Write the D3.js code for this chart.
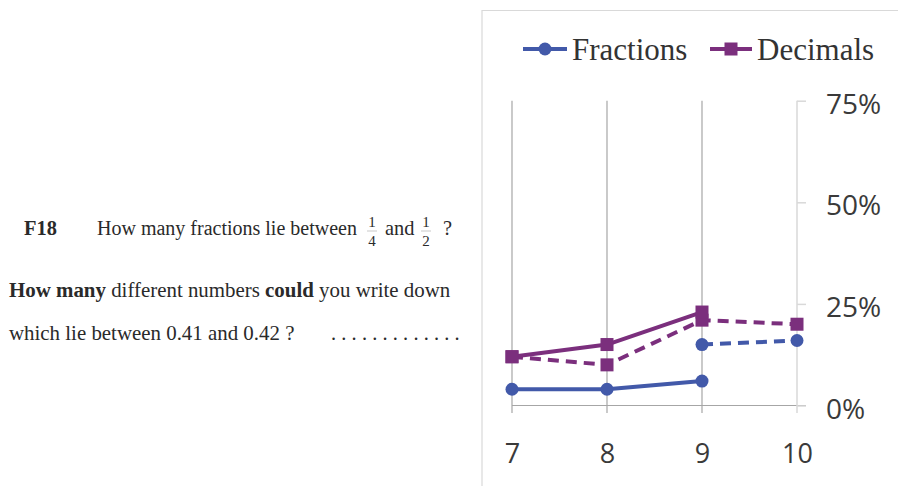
<!DOCTYPE html>
<html>
<head>
<meta charset="utf-8">
<script src="https://cdn.jsdelivr.net/npm/d3@7"></script>
<style>
html,body{margin:0;padding:0;background:#fff;}
svg{display:block;}
</style>
</head>
<body>
<svg id="c" width="898" height="486"></svg>
<script>
const grades = [7, 8, 9, 10];
const yTicks = [0, 25, 50, 75];
const fractionsSolid = [4, 4, 6, null];
const fractionsDashed = [null, null, 15, 16];
const decimalsSolid = [12, 15, 23, null];
const decimalsDashed = [12, 10, 21, 20];
const seriesNames = ["Fractions", "Decimals"];

const blue = "#4259a9", purple = "#7b2f7d";
const svg = d3.select("#c");

// ---- Left question text ----
const serif = "'Liberation Serif','Times New Roman',serif";
const q = svg.append("g").attr("font-family", serif).attr("fill", "#2a2a2a").attr("font-size", 20.9);
q.append("text").attr("x", 24).attr("y", 235).attr("font-weight", "bold").attr("font-size", 20.4).text("F18");
q.append("text").attr("x", 97).attr("y", 235).attr("font-size", 20).text("How many fractions lie between");
function frac(x, num, den) {
  q.append("text").attr("x", x).attr("y", 227).attr("font-size", 15).attr("text-anchor", "middle").text(num);
  q.append("line").attr("x1", x - 5).attr("x2", x + 5).attr("y1", 231).attr("y2", 231).attr("stroke", "#bbb").attr("stroke-width", 0.8);
  q.append("text").attr("x", x).attr("y", 246).attr("font-size", 15).attr("text-anchor", "middle").text(den);
}
frac(372, "1", "4");
q.append("text").attr("x", 385).attr("y", 235).attr("font-size", 20.4).text("and");
frac(426, "1", "2");
q.append("text").attr("x", 443).attr("y", 235).attr("font-size", 20.4).text("?");
const l2 = q.append("text").attr("x", 9).attr("y", 297);
l2.append("tspan").attr("font-weight", "bold").text("How many");
l2.append("tspan").text(" different numbers ");
l2.append("tspan").attr("font-weight", "bold").text("could");
l2.append("tspan").text(" you write down");
q.append("text").attr("x", 9).attr("y", 340).text("which lie between 0.41 and 0.42 ?");
q.append("text").attr("x", 331).attr("y", 340).attr("letter-spacing", 5.2).attr("font-size", 20.4).text(".............");

// ---- Chart frame ----
svg.append("path").attr("d", "M482,486 V10.5 H898").attr("fill", "none").attr("stroke", "#d9d9d9").attr("stroke-width", 1.2);

const x = d3.scaleLinear().domain([7, 10]).range([512, 797]);
const y = d3.scaleLinear().domain([0, 75]).range([405.5, 100.7]);

// gridlines
const g = svg.append("g");
g.selectAll("line.v").data(grades.slice(0, 3)).join("line")
  .attr("x1", d => x(d)).attr("x2", d => x(d))
  .attr("y1", y(75)).attr("y2", 413)
  .attr("stroke", "#a6a6a6").attr("stroke-width", 1.2);
g.append("line").attr("x1", x(7)).attr("x2", 806).attr("y1", y(0)).attr("y2", y(0))
  .attr("stroke", "#a6a6a6").attr("stroke-width", 1.2);
g.append("line").attr("x1", x(10)).attr("x2", x(10)).attr("y1", y(75)).attr("y2", 413)
  .attr("stroke", "#d9d9d9").attr("stroke-width", 1.5);

// right y axis
const yAxis = svg.append("g").attr("transform", `translate(${x(10)},0)`)
  .call(d3.axisRight(y).tickValues(yTicks).tickSize(9).tickSizeOuter(0).tickPadding(20).tickFormat(d => d + "%"));
yAxis.select(".domain").remove();
yAxis.selectAll(".tick line").attr("stroke", "#d9d9d9").attr("stroke-width", 1.5);
yAxis.selectAll(".tick text").attr("font-family", "'Open Sans',sans-serif").attr("font-size", 28)
  .attr("fill", "#3a3a3a").attr("dy", "0.45em");

// bottom x axis labels
const xAxis = svg.append("g").attr("transform", `translate(0,${y(0)})`)
  .call(d3.axisBottom(x).tickValues(grades).tickSize(0).tickPadding(38).tickFormat(d3.format("d")));
xAxis.select(".domain").remove();
xAxis.selectAll(".tick text").attr("font-family", "'Open Sans',sans-serif").attr("font-size", 27)
  .attr("fill", "#3a3a3a");

// series
function drawSeries(vals, color, dashed, marker) {
  const pts = grades.map((gv, i) => ({ g: gv, v: vals[i] })).filter(d => d.v != null);
  const line = d3.line().x(d => x(d.g)).y(d => y(d.v));
  svg.append("path").datum(pts).attr("d", line).attr("fill", "none")
    .attr("stroke", color).attr("stroke-width", 4).attr("stroke-linejoin", "round")
    .attr("stroke-dasharray", dashed ? "11,7" : null);
  if (marker === "circle") {
    svg.append("g").selectAll("circle").data(pts).join("circle")
      .attr("cx", d => x(d.g)).attr("cy", d => y(d.v)).attr("r", 6.5).attr("fill", color);
  } else {
    svg.append("g").selectAll("rect").data(pts).join("rect")
      .attr("x", d => x(d.g) - 6.5).attr("y", d => y(d.v) - 6.5).attr("width", 13).attr("height", 13).attr("fill", color);
  }
}
drawSeries(decimalsDashed, purple, true, "square");
drawSeries(decimalsSolid, purple, false, "square");
drawSeries(fractionsDashed, blue, true, "circle");
drawSeries(fractionsSolid, blue, false, "circle");

// legend
const leg = svg.append("g");
const legItems = [
  { name: seriesNames[0], color: blue, marker: "circle", x1: 523, x2: 567, tx: 572 },
  { name: seriesNames[1], color: purple, marker: "square", x1: 710, x2: 752, tx: 757 }
];
legItems.forEach(it => {
  leg.append("line").attr("x1", it.x1).attr("x2", it.x2).attr("y1", 49).attr("y2", 49)
    .attr("stroke", it.color).attr("stroke-width", 4);
  const cx = (it.x1 + it.x2) / 2;
  if (it.marker === "circle") leg.append("circle").attr("cx", cx).attr("cy", 49).attr("r", 6.5).attr("fill", it.color);
  else leg.append("rect").attr("x", cx - 6.5).attr("y", 42.5).attr("width", 13).attr("height", 13).attr("fill", it.color);
  leg.append("text").attr("x", it.tx).attr("y", 60).attr("font-family", serif).attr("font-size", 31)
    .attr("fill", "#333").text(it.name);
});
</script>
</body>
</html>
